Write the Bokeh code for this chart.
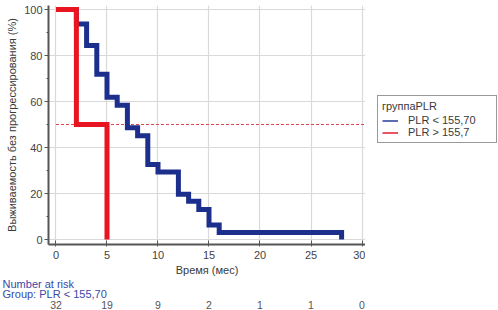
from bokeh.plotting import figure
from bokeh.models import Range1d, FixedTicker, Legend, LegendItem
from bokeh.layouts import column, row
from bokeh.embed import file_html
from bokeh.resources import INLINE
from bokeh.core.properties import value

# ---- data ----
blue_t = [0, 2, 3, 4, 5, 6, 7, 8, 9, 10, 12, 13, 14, 15, 16, 28]
blue_s = [100, 93.75, 84.4, 71.9, 61.8, 58.4, 48.6, 45.1, 32.6, 29.3, 19.7, 16.6, 13.0, 6.3, 3.0, 0]
red_t = [0, 2, 5]
red_s = [100, 50, 0]
median_level = 50
x_ticks = [0, 5, 10, 15, 20, 25, 30]
y_ticks = [0, 20, 40, 60, 80, 100]
y_minor = [10, 30, 50, 70, 90]
risk_times = [0, 5, 10, 15, 20, 25, 30]
risk_counts = ["32", "19", "9", "2", "1", "1", "0"]
blue_name = "PLR < 155,70"
red_name = "PLR > 155,7"
legend_title = "группаPLR"
x_label = "Время (мес)"
y_label = "Выживаемость без прогрессирования (%)"
risk_title = "Number at risk"
risk_group = "Group: PLR < 155,70"

FONT = "Liberation Sans"
BLUE = "#1d2f8c"
RED = "#e8141f"
TXT = "#3a3a3a"

W = 498
H1 = 278
H2 = 32
LEFT = 48
W1 = 365
WL = W - W1

x0, x1 = -0.735, 30.343
p = figure(width=W1, height=H1, output_backend="svg", toolbar_location=None,
           x_range=Range1d(x0, x1), y_range=Range1d(-2.17, 101.74),
           min_border_left=LEFT, min_border_right=0, min_border_top=5,
           min_border_bottom=34)
p.outline_line_color = None
p.background_fill_color = "white"

xt = FixedTicker(ticks=x_ticks)
yt = FixedTicker(ticks=y_ticks, minor_ticks=y_minor)
p.xaxis.ticker = xt
p.yaxis.ticker = yt
p.xgrid.ticker = xt
p.ygrid.ticker = yt
p.xgrid.grid_line_color = "#d9d9d9"
p.ygrid.grid_line_color = "#d9d9d9"
p.xgrid.grid_line_width = 1.2
p.ygrid.grid_line_width = 1.2

for ax in (p.xaxis, p.yaxis):
    ax.axis_line_color = "#555555"
    ax.axis_line_width = 2
    ax.major_tick_line_color = "#555555"
    ax.minor_tick_line_color = "#555555"
    ax.major_label_text_font = FONT
    ax.major_label_text_font_size = "11px"
    ax.major_label_text_color = "#444444"
    ax.axis_label_text_font = FONT
    ax.axis_label_text_font_size = "11px"
    ax.axis_label_text_font_style = "normal"
    ax.axis_label_text_color = TXT
p.xaxis.major_tick_in = 4
p.xaxis.major_tick_out = 2
p.xaxis.minor_tick_line_color = None
p.xaxis.major_label_standoff = 4
p.xaxis.axis_label = x_label
p.xaxis.axis_label_standoff = 2
p.yaxis.major_tick_in = 0
p.yaxis.major_tick_out = 4
p.yaxis.minor_tick_in = 0
p.yaxis.minor_tick_out = 2
p.yaxis.major_label_standoff = 2
p.yaxis.axis_label = y_label
p.yaxis.axis_label_standoff = 3

# median dashed line
p.segment(x0=[x_ticks[0]], x1=[x1], y0=[median_level], y1=[median_level],
          line_color="#d9464f", line_width=1, line_dash="3 2")

p.step(blue_t, blue_s, mode="after", line_color=BLUE, line_width=5, line_join="miter")
p.step(red_t, red_s, mode="after", line_color=RED, line_width=5, line_join="miter")

# legend panel (separate small figure to the right of the plot)
pl = figure(width=WL, height=H1, output_backend="svg", toolbar_location=None,
            x_axis_type=None, y_axis_type=None, min_border=0)
pl.outline_line_color = None
pl.grid.visible = False
# single-point lines: nothing is drawn, they only provide legend glyphs
lb = pl.line(x=blue_t[:1], y=blue_s[:1], line_color="#34479f", line_width=1.6)
lr = pl.line(x=red_t[:1], y=red_s[:1], line_color="#e8293f", line_width=1.6)
legend = Legend(items=[LegendItem(label=blue_name, renderers=[lb]),
                       LegendItem(label=red_name, renderers=[lr])],
                location=(12, 101), title=legend_title,
                title_text_font=FONT, title_text_font_size="11px",
                title_text_font_style="normal", title_text_color=TXT,
                title_standoff=2,
                label_text_font=FONT, label_text_font_size="11px",
                label_text_color=TXT, label_height=11, label_width=84,
                glyph_height=11, glyph_width=16, label_standoff=10,
                spacing=0, padding=4, margin=0,
                border_line_color="#333333", border_line_width=1.5,
                background_fill_color="white", background_fill_alpha=1)
pl.add_layout(legend)

# risk table
scale = (W1 - LEFT) / (x1 - x0)
r0 = x0 - LEFT / scale
r1 = r0 + W / scale
p2 = figure(width=W, height=H2, output_backend="svg", toolbar_location=None,
            x_range=Range1d(r0, r1), y_range=Range1d(H2, 0),
            x_axis_type=None, y_axis_type=None, min_border=0)
p2.outline_line_color = None
p2.grid.visible = False
p2.text(x=[r0 + 0.2, r0 + 0.2], y=[5.5, 15.5], text=[risk_title, risk_group],
        text_font=value(FONT), text_font_size="11px", text_color="#3848a8",
        text_baseline="middle", text_align="left")
p2.text(x=risk_times, y=[26.5] * len(risk_times), text=risk_counts,
        text_font=value(FONT), text_font_size="10.5px", text_color="#555555",
        text_baseline="middle", text_align="center")

layout = column(row(p, pl, spacing=0), p2, spacing=0)
open("out.html", "w").write(file_html(layout, INLINE))
